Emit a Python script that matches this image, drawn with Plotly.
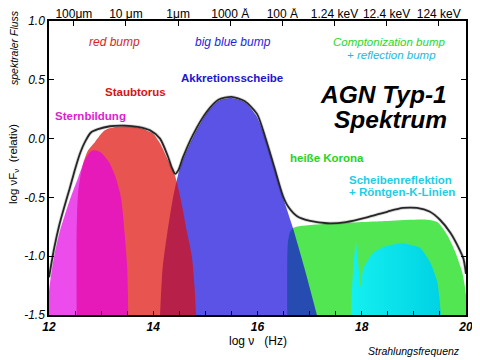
import numpy as np
import plotly.graph_objects as go

# ---------------- data ----------------
# Sternbildung (star formation)
star_x = [12.0, 12.0, 12.1, 12.2, 12.4, 12.56, 12.69, 12.8, 12.88, 13.0, 13.15, 13.27, 13.38, 13.45, 13.5, 13.52]
star_y = [-1.5, -1.3, -1.0, -0.8, -0.52, -0.33, -0.18, -0.11, -0.10, -0.12, -0.2, -0.32, -0.5, -0.8, -1.1, -1.5]
# Staubtorus (dust torus)
dust_x = [12.53, 12.53, 12.56, 12.65, 12.75, 12.88, 13.07, 13.3, 13.5, 13.75, 14.0, 14.13, 14.28, 14.42, 14.52, 14.65, 14.74, 14.79, 14.82]
dust_y = [-1.5, -0.8, -0.45, -0.22, -0.1, -0.03, 0.07, 0.1, 0.105, 0.09, 0.04, -0.04, -0.18, -0.32, -0.5, -0.8, -1.0, -1.25, -1.5]
# Akkretionsscheibe (accretion disk)
disk_x = [14.13, 14.18, 14.27, 14.38, 14.48, 14.57, 14.76, 15.03, 15.25, 15.5, 15.75, 15.97, 16.15, 16.32, 16.49, 16.68, 16.9, 17.14]
disk_y = [-1.5, -1.1, -0.8, -0.5, -0.3, -0.18, 0.01, 0.22, 0.32, 0.345, 0.31, 0.2, 0.0, -0.25, -0.5, -0.76, -1.1, -1.5]
# heisse Korona (hot corona)
corona_x = [16.57, 16.58, 16.62, 16.68, 16.8, 17.5, 18.5, 19.25, 19.45, 19.64, 19.79, 19.93, 20.0, 20.0]
corona_y = [-1.5, -0.9, -0.8, -0.76, -0.745, -0.72, -0.7, -0.69, -0.71, -0.82, -0.96, -1.14, -1.33, -1.5]
# Scheibenreflektion + Roentgen-K-Linien (reflection)
refl_x = [17.79, 17.82, 17.85, 17.89, 17.93, 17.98, 18.03, 18.22, 18.49, 18.79, 19.12, 19.31, 19.45, 19.52]
refl_y = [-1.5, -1.22, -1.03, -0.89, -1.05, -1.26, -1.10, -0.97, -0.91, -0.89, -0.93, -1.05, -1.22, -1.5]
# total spectrum
total_x = [12.0, 12.1, 12.2, 12.3, 12.4, 12.5, 12.6, 12.7, 12.8, 12.94, 13.17, 13.45, 13.7, 13.94, 14.13, 14.28, 14.36,
           14.42, 14.48, 14.57, 14.76, 15.03, 15.25, 15.5, 15.75, 15.99, 16.15, 16.32, 16.49, 16.59, 16.76, 17.01,
           17.34, 17.7, 18.1, 18.5, 18.79, 19.06, 19.3, 19.5, 19.7, 19.85, 19.95, 20.0]
total_y = [-1.18, -0.93, -0.73, -0.57, -0.42, -0.26, -0.12, -0.02, 0.05, 0.08, 0.105, 0.11, 0.1, 0.07, 0.0, -0.15, -0.25,
           -0.30, -0.27, -0.16, 0.03, 0.23, 0.33, 0.355, 0.32, 0.21, 0.01, -0.24, -0.49, -0.58, -0.66, -0.70,
           -0.72, -0.71, -0.67, -0.62, -0.59, -0.59, -0.62, -0.69, -0.8, -0.92, -1.02, -1.15]

# axis ticks
x_ticks = [12, 12.5, 13, 13.5, 14, 14.5, 15, 15.5, 16, 16.5, 17, 17.5, 18, 18.5, 19, 19.5, 20]
x_ticklabels = ['12', ' ', ' ', ' ', '14', ' ', ' ', ' ', '16', ' ', ' ', ' ', '18', ' ', ' ', ' ', '20']
y_ticks = [-1.5, -1.0, -0.5, 0.0, 0.5, 1.0]
y_ticklabels = ['-1.5', '-1.0', '-0.5', '0.0', '0.5', '1.0']
top_wavelength_m = [1e-4, 1e-5, 1e-6, 1e-7, 1e-8, 1e-9, 1e-10, 1e-11]
top_labels = ['100\u03bcm', '10 \u03bcm', '1\u03bcm', '1000 \u00c5', '100 \u00c5', '1.24 keV', '12.4 keV', '124 keV']
c_light = 2.998e8
top_pos = [float(np.log10(c_light / w)) for w in top_wavelength_m]

FONT = 'Liberation Sans, Arial, sans-serif'

# the page body has an 8px margin: shrink the figure so it fits the 480x360 window
OFF = 8
W, H = 480 - OFF, 360 - OFF

fig = go.Figure()


def area(x, y, color, **kw):
    fig.add_trace(go.Scatter(x=x, y=y, mode='lines', fill='toself', fillcolor=color,
                             line=dict(width=0, shape='spline', smoothing=0.7),
                             hoverinfo='skip', showlegend=False, **kw))


area(corona_x, corona_y, 'rgba(10,220,10,0.7)')
fig.add_trace(go.Scatter(x=refl_x, y=refl_y, mode='lines', fill='toself',
                         fillgradient=dict(type='horizontal',
                                           colorscale=[[0, 'rgb(20,240,240)'], [1, 'rgb(0,210,228)']]),
                         line=dict(width=0, shape='spline', smoothing=0.5),
                         hoverinfo='skip', showlegend=False))
area(disk_x, disk_y, 'rgba(20,10,220,0.7)')
area(dust_x, dust_y, 'rgba(222,11,6,0.7)')
area(star_x, star_y, 'rgba(230,0,230,0.7)')

fig.add_trace(go.Scatter(x=total_x, y=total_y, mode='lines',
                         line=dict(color='rgba(0,0,0,0.15)', width=3.5, shape='spline', smoothing=0.7),
                         hoverinfo='skip', showlegend=False))
fig.add_trace(go.Scatter(x=total_x, y=total_y, mode='lines',
                         line=dict(color='#262626', width=1.8, shape='spline', smoothing=0.7),
                         hoverinfo='skip', showlegend=False))
# invisible trace to anchor the top (wavelength) axis
fig.add_trace(go.Scatter(x=[12, 20], y=[-1.5, -1.5], xaxis='x2', mode='markers',
                         marker=dict(opacity=0, size=1), hoverinfo='skip', showlegend=False))

# plot-area edges in window pixels
L, R, T, B = 49, 466, 21, 315


def px(xp, yp):
    return (xp - L) / (R - L), (B - yp) / (B - T)


def note(text, xp, yp, color, size=12, bold=False, italic=False, angle=0, xanchor='center'):
    xx, yy = px(xp, yp)
    fig.add_annotation(text=text, x=xx, y=yy, xref='paper', yref='paper', showarrow=False,
                       xanchor=xanchor, yanchor='middle', textangle=angle,
                       font=dict(family=FONT, size=size, color=color,
                                 weight='bold' if bold else 'normal',
                                 style='italic' if italic else 'normal'))


note('red bump', 114, 42, 'rgb(220,30,30)', 12, italic=True)
note('big blue bump', 233, 42, 'rgb(30,30,225)', 12, italic=True)
note('Comptonization bump', 389, 42, 'rgb(40,215,40)', 11.5, italic=True)
note('+ reflection bump', 391, 55, 'rgb(30,185,225)', 11.5, italic=True)
note('Akkretionsscheibe', 232, 78, 'rgb(30,20,210)', 11.5, bold=True)
note('Staubtorus', 135, 92, 'rgb(215,20,20)', 11.5, bold=True)
note('Sternbildung', 90, 116, 'rgb(220,30,205)', 11.5, bold=True)
note('AGN Typ-1', 449, 95, 'black', 24.5, bold=True, italic=True, xanchor='right')
note('Spektrum', 449, 119, 'black', 24.5, bold=True, italic=True, xanchor='right')
note('hei\u00dfe Korona', 327, 158, 'rgb(40,210,30)', 11.5, bold=True)
note('Scheibenreflektion', 347, 180, 'rgb(30,205,230)', 11.5, bold=True, xanchor='left')
note('+ R\u00f6ntgen-K-Linien', 347, 192, 'rgb(30,205,230)', 11.5, bold=True, xanchor='left')

note('spektraler Fluss', 14, 48, 'black', 10.5, italic=True, angle=-90)
note('log \u03bdF<sub>\u03bd</sub>  (relativ)', 14, 164, 'black', 11.5, angle=-90)
note('log \u03bd   (Hz)', 258, 341, 'black', 12)
note('Strahlungsfrequenz', 414, 351, 'black', 10.5, italic=True)

fig.update_layout(
    width=W, height=H,
    margin=dict(l=L - OFF, r=W - (R - OFF), t=T - OFF, b=H - (B - OFF), pad=0, autoexpand=False),
    paper_bgcolor='white', plot_bgcolor='white',
    xaxis=dict(range=[12, 20], tickvals=x_ticks, ticktext=x_ticklabels, ticks='inside', ticklen=4,
               tickwidth=1.3, tickcolor='black', showline=True, linecolor='black', linewidth=1.5,
               mirror=True, showgrid=False, zeroline=False, fixedrange=True, automargin=False,
               tickfont=dict(family=FONT, size=12, color='black', weight='bold', style='italic')),
    xaxis2=dict(range=[12, 20], overlaying='x', side='top', anchor='y', tickvals=top_pos,
                ticktext=top_labels, ticks='inside', ticklen=5, tickwidth=1.3, tickcolor='black',
                showline=False, showgrid=False, zeroline=False, automargin=False,
                tickfont=dict(family=FONT, size=12, color='black')),
    yaxis=dict(range=[-1.5, 1.0], tickvals=y_ticks, ticktext=y_ticklabels, ticks='inside', ticklen=5,
               tickwidth=1.3, tickcolor='black', showline=True, linecolor='black', linewidth=1.5,
               mirror='ticks', showgrid=False, zeroline=False, automargin=False,
               tickfont=dict(family=FONT, size=12, color='black', style='italic')),
    showlegend=False,
)

fig.write_html('out.html')
